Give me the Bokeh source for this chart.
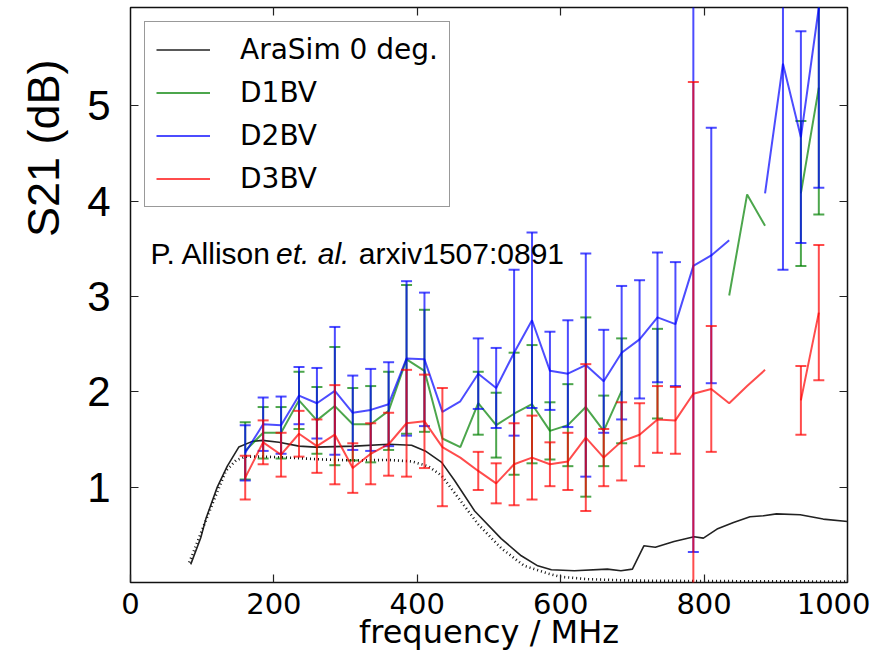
import numpy as np
from bokeh.plotting import figure
from bokeh.models import (Range1d, LinearAxis, FixedTicker, Legend, LegendItem, Label, Title)
from bokeh.embed import file_html
from bokeh.resources import INLINE

nan = float("nan")

# ---------------- data ----------------
freq = [160, 185, 210, 235, 260, 285, 310, 335, 360, 385, 410, 435, 460, 485, 510,
        535, 560, 585, 610, 635, 660, 685, 710, 735, 760, 785, 810, 835, 860, 885,
        910, 935, 960]

d1bv = [1.38, 1.57, 1.57, 1.91, 1.70, 1.85, 1.66, 1.66, 1.80, 2.34, 2.22, 1.51, 1.42, 1.88, 1.65,
        1.77, 1.87, 1.59, 1.65, 1.84, 1.59, 2.01, nan, 2.19, nan, nan, nan, 3.01, 4.07, 3.74,
        nan, 4.08, 5.19]
d1bv_err = [0.30, 0.27, 0.27, 0.30, 0.35, 0.62, 0.38, 0.40, 0.41, 0.78, 0.64, nan, nan, 0.33, 0.34,
            0.64, 0.62, 0.30, 0.43, 0.94, 0.37, 0.55, nan, 0.47, nan, nan, nan, nan, nan, nan,
            nan, 0.76, 1.33]

d2bv = [1.36, 1.66, 1.65, 1.96, 1.88, 2.01, 1.78, 1.81, 1.87, 2.35, 2.34, 1.79, 1.90, 2.19, 2.04,
        2.41, 2.75, 2.22, 2.19, 2.28, 2.11, 2.41, 2.55, 2.78, 2.71, 3.32, 3.43, 3.59, nan, 4.08,
        5.44, 4.67, 6.03]
d2bv_err = [0.29, 0.28, 0.30, 0.30, 0.37, 0.67, 0.39, 0.43, 0.44, 0.81, 0.70, nan, nan, 0.37, 0.42,
            0.87, 0.92, 0.41, 0.56, 1.17, 0.54, 0.70, 0.62, 0.68, 0.65, 3.00, 1.34, nan, nan, nan,
            2.16, 1.11, 1.89]

d3bv = [1.10, 1.47, 1.34, 1.56, 1.43, 1.55, 1.20, 1.35, 1.45, 1.67, 1.69, 1.42, 1.31, 1.17, 1.04,
        1.24, 1.31, 1.24, 1.27, 1.52, 1.31, 1.48, 1.55, 1.71, 1.70, 1.98, 2.03, 1.88, 2.06, 2.23,
        nan, 1.91, 2.83]
d3bv_err = [0.23, 0.23, 0.23, 0.24, 0.28, 0.52, 0.26, 0.32, 0.33, 0.56, 0.49, 0.62, nan, 0.20, 0.21,
            0.43, 0.44, 0.23, 0.30, 0.77, 0.30, 0.41, 0.33, 0.35, 0.35, 3.27, 0.66, nan, nan, nan,
            nan, 0.36, 0.71]

arasim_freq = [84, 98, 105, 121, 135, 151, 170, 184, 207, 235, 258, 313, 360, 392, 411, 434, 452,
               480, 517, 545, 568, 587, 619, 665, 684, 700, 716, 732, 758, 786, 799, 818, 841,
               864, 883, 901, 934, 966, 1000]
arasim_s21 = [0.19, 0.47, 0.665, 1.00, 1.22, 1.42, 1.48, 1.49, 1.47, 1.43, 1.42, 1.43, 1.45, 1.44,
              1.38, 1.26, 1.07, 0.75, 0.46, 0.28, 0.175, 0.133, 0.123, 0.14, 0.123, 0.14, 0.385,
              0.37, 0.43, 0.48, 0.465, 0.56, 0.63, 0.69, 0.70, 0.72, 0.71, 0.665, 0.64]

dotted_freq = [82, 114, 133, 147, 160, 185, 220, 267, 313, 360, 392, 415, 434, 457, 485, 517,
               549, 582, 600, 637, 700, 800, 1000]
dotted_s21 = [0.21, 0.82, 1.17, 1.28, 1.32, 1.32, 1.31, 1.29, 1.28, 1.285, 1.27, 1.22, 1.12, 0.89,
              0.61, 0.36, 0.175, 0.095, 0.06, 0.035, 0.02, 0.015, 0.01]

x_ticks = [0, 200, 400, 600, 800, 1000]
x_ticks_top = [200, 400, 600, 800]
y_ticks = [1, 2, 3, 4, 5]

series = [("D1BV", d1bv, d1bv_err, "#008000"),
          ("D2BV", d2bv, d2bv_err, "#0000ff"),
          ("D3BV", d3bv, d3bv_err, "#ff0000")]

# ---------------- figure ----------------
p = figure(width=870, height=654, x_range=Range1d(0, 1000), y_range=Range1d(0, 6.03),
           output_backend="svg", toolbar_location=None,
           min_border_left=128, min_border_right=23, min_border_top=7, min_border_bottom=72)
p.grid.visible = False
p.background_fill_color = "white"
p.border_fill_color = "white"
p.outline_line_color = "#111111"
p.outline_line_width = 1.5

xa = p.xaxis[0]
xa.ticker = FixedTicker(ticks=x_ticks)
xa.major_tick_in = 8
xa.major_tick_out = 0
xa.minor_tick_line_color = None
xa.axis_line_color = None
xa.major_tick_line_color = "#222222"
xa.major_tick_line_width = 1.2
xa.major_label_text_font = "DejaVu Sans"
xa.major_label_text_font_size = "29px"
xa.major_label_text_color = "black"
xa.major_label_standoff = 10
xa.axis_label = "frequency / MHz"
xa.axis_label_text_font = "DejaVu Sans"
xa.axis_label_text_font_size = "32px"
xa.axis_label_text_font_style = "normal"
xa.axis_label_text_color = "black"
xa.axis_label_standoff = -4

ya = p.yaxis[0]
ya.ticker = FixedTicker(ticks=y_ticks)
ya.major_tick_in = 8
ya.major_tick_out = 0
ya.minor_tick_line_color = None
ya.axis_line_color = None
ya.major_tick_line_color = "#222222"
ya.major_tick_line_width = 1.2
ya.major_label_text_font = "Liberation Sans"
ya.major_label_text_font_size = "42px"
ya.major_label_text_color = "black"
ya.major_label_standoff = 20

right_axis = LinearAxis(ticker=FixedTicker(ticks=y_ticks), major_tick_in=8, major_tick_out=0,
                        minor_tick_line_color=None, axis_line_color=None,
                        major_tick_line_color="#222222", major_tick_line_width=1.2,
                        major_label_overrides={t: "" for t in y_ticks},
                        major_label_text_font_size="1px", major_label_standoff=0)
p.add_layout(right_axis, "right")
top_axis = LinearAxis(ticker=FixedTicker(ticks=x_ticks_top), major_tick_in=8, major_tick_out=0,
                      minor_tick_line_color=None, axis_line_color=None,
                      major_tick_line_color="#222222", major_tick_line_width=1.2,
                      major_label_overrides={t: "" for t in x_ticks_top},
                      major_label_text_font_size="1px", major_label_standoff=0)
p.add_layout(top_axis, "above")

# y-axis title (placed high, as on the slide)
p.add_layout(Title(text="S21 (dB)", align="right", offset=52, standoff=31,
                   text_font="Liberation Sans", text_font_size="45px",
                   text_font_style="normal", text_color="black"), "left")

# ---------------- simulation curves ----------------
ara_r = p.line(arasim_freq, arasim_s21, line_color="#222222", line_width=1.6)
p.line(dotted_freq, dotted_s21, line_color="#111111", line_width=2.6, line_dash="1 3")

# ---------------- measured series ----------------
items = [LegendItem(label="AraSim 0 deg.", renderers=[ara_r])]
for name, vals, errs, col in series:
    f = np.array(freq, dtype=float)
    v = np.array(vals, dtype=float)
    e = np.array(errs, dtype=float)
    m = ~np.isnan(e) & ~np.isnan(v)
    lo = v[m] - e[m]
    hi = v[m] + e[m]
    r = p.line(f, v, line_color=col, line_alpha=0.7, line_width=2)
    p.segment(x0=f[m], y0=lo, x1=f[m], y1=hi, line_color=col, line_alpha=0.7, line_width=2)
    p.scatter(f[m], lo, marker="dash", size=11, line_color=col, line_alpha=0.7, line_width=2)
    p.scatter(f[m], hi, marker="dash", size=11, line_color=col, line_alpha=0.7, line_width=2)
    items.append(LegendItem(label=name, renderers=[r]))

legend = Legend(items=items, location="top_left", margin=14, padding=11, spacing=10,
                glyph_width=54, glyph_height=33, label_height=33, label_standoff=30,
                label_text_font="DejaVu Sans", label_text_font_size="28px",
                label_text_color="black",
                border_line_color="#333333", border_line_width=1.5,
                background_fill_color="white", background_fill_alpha=1.0)
p.add_layout(legend)

# ---------------- text annotation ----------------
p.add_layout(Label(x=27.8, y=3.45, text="P. Allison", text_font="Liberation Sans",
                   text_font_size="30px", text_color="black", text_baseline="alphabetic"))
p.add_layout(Label(x=203, y=3.45, text="et. al.", text_font="Liberation Sans",
                   text_font_size="30px", text_font_style="italic", text_color="black",
                   text_baseline="alphabetic"))
p.add_layout(Label(x=318.5, y=3.45, text="arxiv1507:0891", text_font="Liberation Sans",
                   text_font_size="30px", text_color="black", text_baseline="alphabetic"))

open("out.html", "w").write(file_html(p, INLINE))
